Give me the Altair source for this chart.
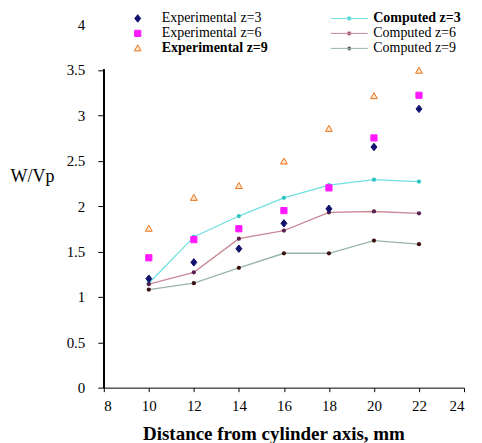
import altair as alt
import pandas as pd

# ---- data ----
x_vals = [10, 12, 14, 16, 18, 20, 22]
exp_z3 = [1.20, 1.38, 1.53, 1.81, 1.97, 2.65, 3.07]
exp_z6 = [1.43, 1.63, 1.75, 1.95, 2.20, 2.75, 3.22]
exp_z9 = [1.75, 2.09, 2.22, 2.49, 2.85, 3.21, 3.49]
comp_z3 = [1.15, 1.66, 1.89, 2.09, 2.23, 2.29, 2.27]
comp_z6 = [1.14, 1.27, 1.64, 1.73, 1.93, 1.94, 1.92]
comp_z9 = [1.08, 1.15, 1.32, 1.48, 1.48, 1.62, 1.58]

series_names = ["Experimental z=3", "Experimental z=6", "Experimental z=9",
                "Computed z=3", "Computed z=6", "Computed z=9"]
exp_names = series_names[:3]
comp_names = series_names[3:]

# ---- styles ----
FONT = "Liberation Serif"
shape_paths = [
    "M0,-0.75L0.6,0L0,0.75L-0.6,0Z",
    "M-0.62,-0.62H0.62V0.62H-0.62Z",
    "M0,-0.7L0.68,0.5H-0.68Z",
    "M-3.7,0H3.7M-0.3,-0.3H0.3V0.3H-0.3Z",
    "M-3.7,0H3.7M-0.3,-0.3H0.3V0.3H-0.3Z",
    "M-3.7,0H3.7M-0.35,0A0.35,0.35,0,1,0,0.35,0A0.35,0.35,0,1,0,-0.35,0Z",
]
fill_colors = ["#12126e", "#ff1aff", "#ffe6cc", "#2ec4c4", "#5a2050", "#3d1010"]
stroke_colors = ["#12126e", "#ff1aff", "#e8731a", "#70e0e0", "#c98a96", "#98b4a8"]
line_colors = ["#70e0e0", "#c98a96", "#98b4a8"]

rows = []
for name, vals in zip(series_names, [exp_z3, exp_z6, exp_z9, comp_z3, comp_z6, comp_z9]):
    for xv, yv in zip(x_vals, vals):
        rows.append({"series": name, "x": xv, "y": yv})
df = pd.DataFrame(rows)
df_exp = df[df.series.isin(exp_names)]
df_comp = df[df.series.isin(comp_names)]

leg = alt.Legend(
    title=None, orient="none", legendX=27, legendY=-13, columns=2,
    columnPadding=60, rowPadding=1, padding=0, labelOffset=17,
    labelFont=FONT, labelFontSize=14, labelColor="black",
    labelFontWeight=alt.ExprRef(
        "datum.label == 'Experimental z=9' || datum.label == 'Computed z=3' ? 'bold' : 'normal'"),
    symbolStrokeWidth=1, symbolSize=100, labelLimit=300,
)

x_scale = alt.Scale(domain=[8, 24], nice=False, zero=False)
y_scale = alt.Scale(domain=[0, 4], nice=False)

x_enc = alt.X("x:Q", scale=x_scale,
              axis=alt.Axis(values=[8, 10, 12, 14, 16, 18, 20, 22, 24], grid=False,
                            domainColor="black", tickColor="black", tickSize=4,
                            labelFont=FONT, labelFontSize=15, labelColor="black",
                            labelPadding=7,
                            title="Distance from cylinder axis, mm", titleFont=FONT,
                            titleFontSize=19, titleFontWeight="bold", titleColor="black",
                            titleX=170, titleY=46, titleBaseline="middle", titleAlign="center"))
y_enc = alt.Y("y:Q", scale=y_scale,
              axis=alt.Axis(values=[0, 0.5, 1, 1.5, 2, 2.5, 3, 3.5, 4], format="~g",
                            grid=False, domain=False, tickColor="black", tickSize=6,
                            tickOpacity={"condition": {"test": "datum.value == 4", "value": 0}, "value": 1},
                            labelFont=FONT, labelFontSize=15, labelColor="black",
                            labelPadding=13,
                            title="W/Vp", titleFont=FONT, titleFontSize=18,
                            titleFontWeight="normal", titleColor="black", titleAngle=0,
                            titleAlign="left", titleBaseline="middle",
                            titleX=-94, titleY=152))

scale_shape = alt.Scale(domain=series_names, range=shape_paths)
scale_fill = alt.Scale(domain=series_names, range=fill_colors)
scale_stroke = alt.Scale(domain=series_names, range=stroke_colors)

axis_line = alt.Chart(df).mark_rule(color="black", strokeWidth=1).encode(
    x=alt.value(0), y=alt.datum(0), y2=alt.datum(3.5))

lines = alt.Chart(df_comp).mark_line(strokeWidth=1.3).encode(
    x=x_enc, y=y_enc,
    color=alt.Color("series:N", scale=alt.Scale(domain=comp_names, range=line_colors), legend=None),
    detail="series:N",
)

comp_pts = alt.Chart(df_comp).mark_point(filled=True, size=18, opacity=1, shape="circle",
                                           strokeWidth=0).encode(
    x=x_enc, y=y_enc,
    fill=alt.Fill("series:N", scale=scale_fill, legend=leg),
)

exp_pts = alt.Chart(df_exp).mark_point(filled=True, size=100, opacity=1, strokeWidth=1).encode(
    x=x_enc, y=y_enc,
    shape=alt.Shape("series:N", scale=scale_shape, legend=leg),
    fill=alt.Fill("series:N", scale=scale_fill, legend=leg),
    stroke=alt.Stroke("series:N", scale=scale_stroke, legend=leg),
)

chart = alt.layer(lines, comp_pts, exp_pts, axis_line).properties(
    width=361, height=364,
    autosize=alt.AutoSizeParams(type="none"),
    padding={"left": 96, "top": 16, "right": 10, "bottom": 55},
    background="white",
).configure(font=FONT).configure_axis(
    labelFont=FONT, titleFont=FONT
).configure_view(stroke=None)

chart.save("out.html", embed_options={"renderer": "svg", "actions": False})
